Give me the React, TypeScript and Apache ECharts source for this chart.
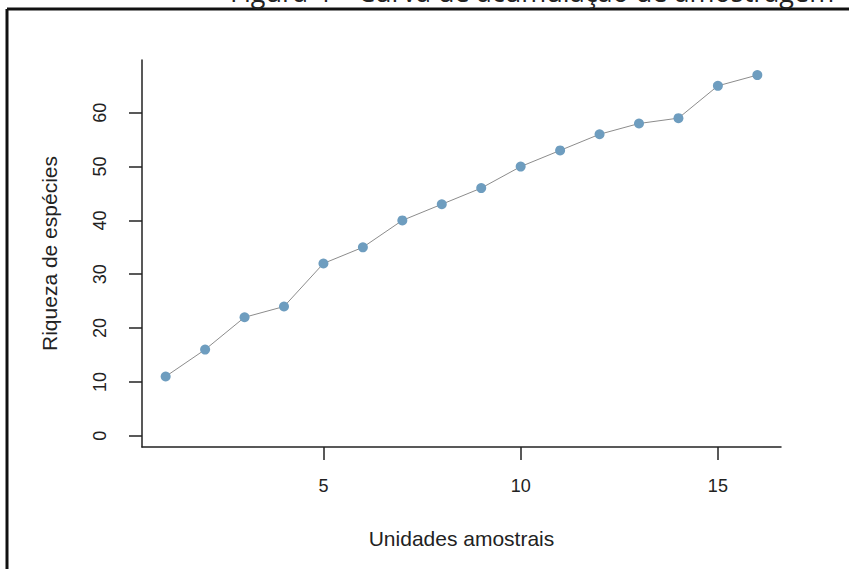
import React, { useEffect, useRef } from "react";
import * as echarts from "echarts";

const units = [1, 2, 3, 4, 5, 6, 7, 8, 9, 10, 11, 12, 13, 14, 15, 16];
const richness = [11, 16, 22, 24, 32, 35, 40, 43, 46, 50, 53, 56, 58, 59, 65, 67];
const xTicks = [5, 10, 15];
const yTicks = [0, 10, 20, 30, 40, 50, 60];
const titleText = "Figura 4 – Curva de acumulação de amostragem";
const xTitle = "Unidades amostrais";
const yTitle = "Riqueza de espécies";

export default function App() {
  const ref = useRef<HTMLDivElement>(null);
  useEffect(() => {
    const chart = echarts.init(ref.current!, undefined, { renderer: "svg" });
    const font = "Liberation Sans, Arial, sans-serif";
    chart.setOption({
      animation: false,
      backgroundColor: "#ffffff",
      grid: { left: 142, top: 60, right: 68, bottom: 122, containLabel: false },
      xAxis: {
        type: "value",
        min: 0.4,
        max: 16.6,
        name: xTitle,
        nameLocation: "middle",
        nameGap: 81,
        nameTextStyle: { fontFamily: font, fontSize: 21, color: "#222" },
        axisLine: { show: true, onZero: false, lineStyle: { color: "#222", width: 1.5 } },
        axisTick: { show: true, length: 13, inside: false, customValues: xTicks, lineStyle: { color: "#222", width: 1.5 } },
        axisLabel: { customValues: xTicks, fontFamily: font, fontSize: 18, color: "#222", margin: 30 },
        splitLine: { show: false },
      },
      yAxis: {
        type: "value",
        min: -2.1,
        max: 69.8,
        name: yTitle,
        nameLocation: "middle",
        nameGap: 82,
        nameRotate: 90,
        nameTextStyle: { fontFamily: font, fontSize: 21, color: "#222" },
        axisLine: { show: true, onZero: false, lineStyle: { color: "#222", width: 1.5 } },
        axisTick: { show: true, length: 13, inside: false, customValues: yTicks, lineStyle: { color: "#222", width: 1.5 } },
        axisLabel: { customValues: yTicks, rotate: 90, fontFamily: font, fontSize: 18, color: "#222", margin: 33 },
        splitLine: { show: false },
      },
      series: [
        {
          type: "line",
          data: units.map((u, i) => [u, richness[i]]),
          symbol: "circle",
          symbolSize: 10,
          showSymbol: true,
          lineStyle: { color: "#8c8c8c", width: 1 },
          itemStyle: { color: "#6e9dbf" },
        },
      ],
      graphic: [
        {
          type: "line",
          shape: { x1: 7, y1: 9, x2: 849, y2: 9 },
          style: { stroke: "#111", lineWidth: 3 },
        },
        {
          type: "line",
          shape: { x1: 7, y1: 9, x2: 7, y2: 569 },
          style: { stroke: "#111", lineWidth: 3 },
        },
        {
          type: "text",
          left: 230,
          top: -22,
          style: { text: titleText, font: "27px 'Open Sans', sans-serif", fill: "#222" },
        },
      ],
    });
    return () => chart.dispose();
  }, []);
  return <div ref={ref} style={{ position: "fixed", left: 0, top: 0, width: 849, height: 569 }} />;
}
